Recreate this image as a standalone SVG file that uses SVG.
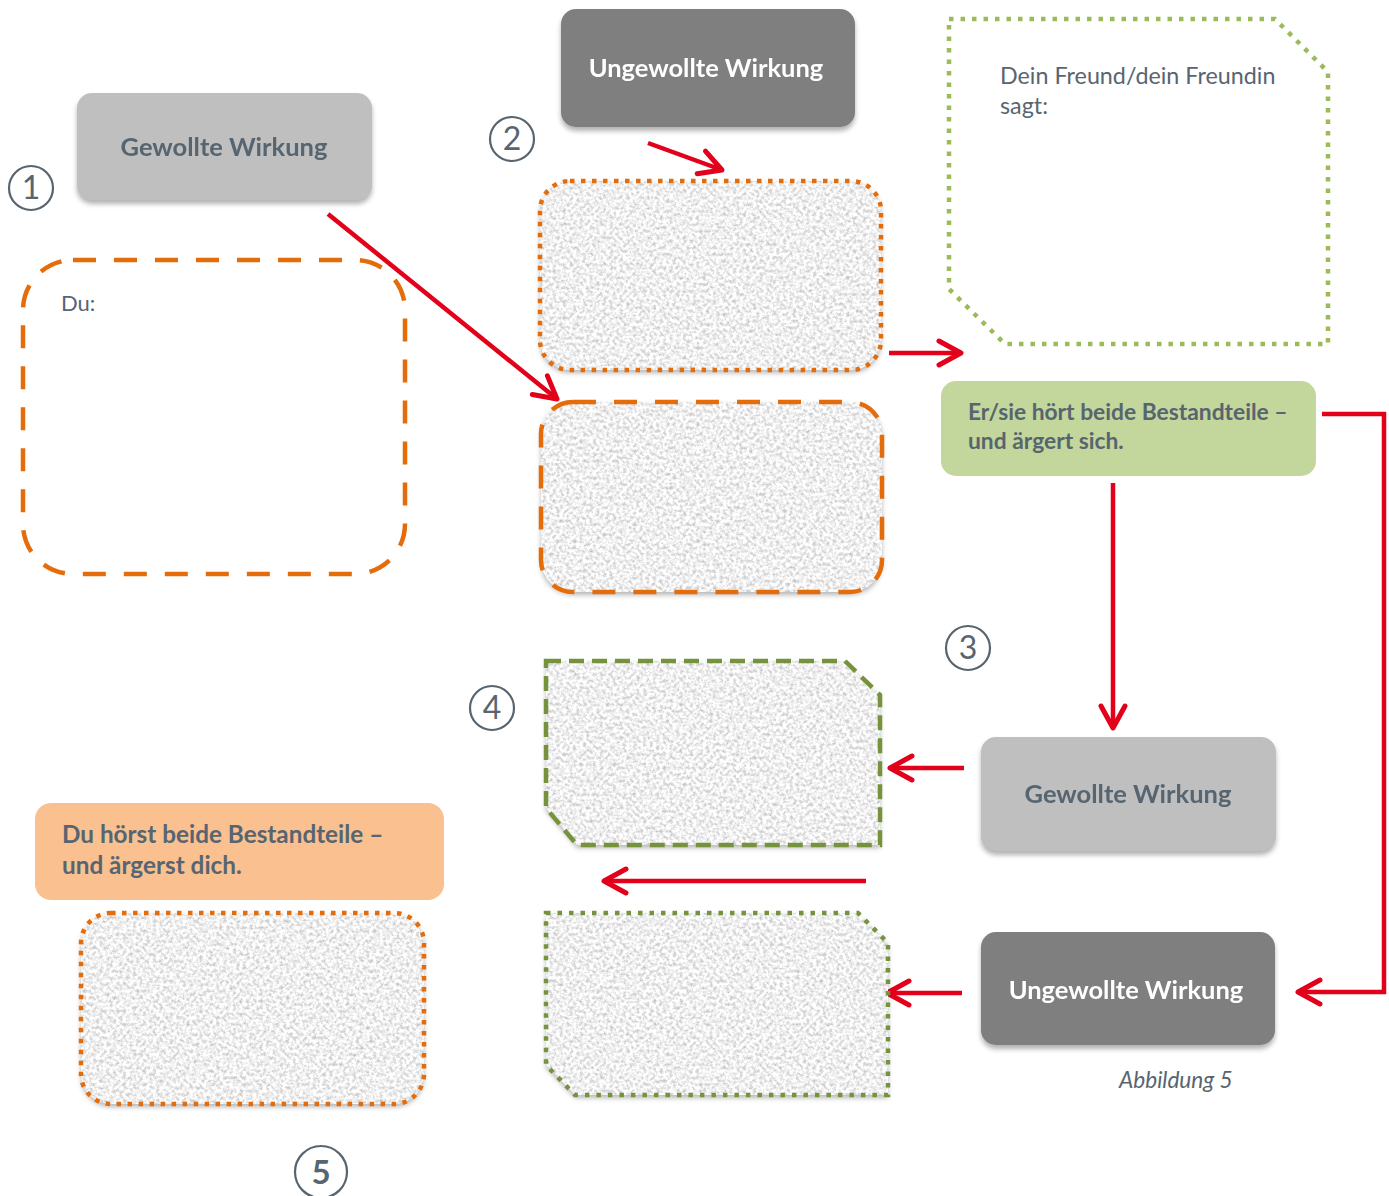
<svg xmlns="http://www.w3.org/2000/svg" width="1389" height="1196" viewBox="0 0 1389 1196">
<defs>
<style>
.txt{font-family:Lato,"Open Sans","Liberation Sans",sans-serif;fill:#576570}
.lbl{font-size:25.5px;font-weight:bold;text-anchor:middle}
.light{fill:#bfbfbf}
.dark{fill:#7f7f7f}
.white{fill:#ffffff}
.num{font-family:Lato,"Open Sans","Liberation Sans",sans-serif;font-size:32px;fill:#576570;text-anchor:middle}
.circ{fill:none;stroke:#576570;stroke-width:2.2}
.conn{fill:none;stroke:#e2001a;stroke-width:4.5}
.odot{fill:none;stroke:#e46c0a;stroke-width:4.5;stroke-dasharray:4.5 6.5}
.odash{fill:none;stroke:#e46c0a;stroke-width:4.5;stroke-dasharray:23 18}
.gdot{fill:none;stroke:#9bbb59;stroke-width:4.5;stroke-dasharray:4.5 7}
.gdash{fill:none;stroke:#76923c;stroke-width:4.5;stroke-dasharray:15 8}
.gdot2{fill:none;stroke:#76923c;stroke-width:4.5;stroke-dasharray:4.5 7}
.texfill{fill:#f2f2f2;filter:url(#tex)}
.sh{filter:url(#shadow)}
</style>
<filter id="shadow" x="-5%" y="-10%" width="110%" height="130%" color-interpolation-filters="sRGB">
<feGaussianBlur in="SourceAlpha" stdDeviation="2.5"/>
<feOffset dy="4" result="b"/>
<feFlood flood-color="#000" flood-opacity="0.3"/>
<feComposite in2="b" operator="in" result="s"/>
<feMerge><feMergeNode in="s"/><feMergeNode in="SourceGraphic"/></feMerge>
</filter>
<filter id="tex" x="-5%" y="-5%" width="110%" height="115%" color-interpolation-filters="sRGB">
<feTurbulence type="fractalNoise" baseFrequency="0.3" numOctaves="3" seed="7" result="n"/>
<feColorMatrix in="n" type="matrix" values="0.5 0 0 0 0.69  0.5 0 0 0 0.69  0.5 0 0 0 0.69  0 0 0 0 1" result="g"/>
<feComposite in="g" in2="SourceAlpha" operator="in" result="t"/>
<feGaussianBlur in="SourceAlpha" stdDeviation="2.5"/>
<feOffset dy="3" result="b"/>
<feFlood flood-color="#000" flood-opacity="0.28"/>
<feComposite in2="b" operator="in" result="s"/>
<feMerge><feMergeNode in="s"/><feMergeNode in="t"/></feMerge>
</filter>
<marker id="arr" markerUnits="userSpaceOnUse" markerWidth="34" markerHeight="34" viewBox="0 0 34 34" refX="30" refY="17" orient="auto">
<path d="M8,5 L30,17 L8,29" fill="none" stroke="#e2001a" stroke-width="5" stroke-linecap="round" stroke-linejoin="round"/>
</marker>
</defs>

<g id="connectors">
<path class="conn" d="M648,143 L722,170" marker-end="url(#arr)"/>
<path class="conn" d="M328,214 L557,399" marker-end="url(#arr)"/>
<path class="conn" d="M889,353 L961,353" marker-end="url(#arr)"/>
<path class="conn" d="M1113,483 L1113,728" marker-end="url(#arr)"/>
<path class="conn" d="M1322,414 L1384,414 L1384,992 L1298,992" marker-end="url(#arr)"/>
<path class="conn" d="M964,768 L890,768" marker-end="url(#arr)"/>
<path class="conn" d="M866,881 L604,881" marker-end="url(#arr)"/>
<path class="conn" d="M962,993 L887,993" marker-end="url(#arr)"/>
</g>

<g id="num1"><circle class="circ" cx="31" cy="188" r="22"/><text class="num" x="31" y="199">1</text></g>
<g id="num2"><circle class="circ" cx="512" cy="139" r="22"/><text class="num" x="512" y="150">2</text></g>
<g id="num3"><circle class="circ" cx="968" cy="648" r="22"/><text class="num" x="968" y="659">3</text></g>
<g id="num4"><circle class="circ" cx="492" cy="708" r="22"/><text class="num" x="492" y="719">4</text></g>
<g id="num5"><circle class="circ" cx="321" cy="1172" r="26"/><text class="num" x="321" y="1184" style="font-weight:bold;font-size:33px">5</text></g>

<g id="gewollte1" class="sh">
<rect class="light" x="77" y="93" width="295" height="107" rx="15"/>
<text class="txt lbl" x="224" y="156">Gewollte Wirkung</text>
</g>

<g id="ungewollte1" class="sh">
<rect class="dark" x="561" y="9" width="294" height="118" rx="15"/>
<text class="txt lbl white" x="706" y="77">Ungewollte Wirkung</text>
</g>

<g id="du">
<rect class="odash" x="23" y="260" width="382" height="314" rx="50"/>
<text class="txt" x="61" y="311" style="font-size:22px">Du:</text>
</g>

<g id="tex-orange-dotted-top">
<rect class="texfill" x="540" y="181" width="341" height="189" rx="30"/>
<rect class="odot" x="540" y="181" width="341" height="189" rx="30"/>
</g>

<g id="tex-orange-dashed">
<rect class="texfill" x="541" y="402" width="341" height="190" rx="32"/>
<rect class="odash" x="541" y="402" width="341" height="190" rx="32"/>
</g>

<g id="freund">
<path class="gdot" d="M949,19 L1275,19 L1328,72 L1328,344 L1005,344 L949,289 Z"/>
<text class="txt" x="1000" y="84" style="font-size:23.3px">Dein Freund/dein Freundin</text>
<text class="txt" x="1000" y="114" style="font-size:23.3px">sagt:</text>
</g>

<g id="ersie">
<rect x="941" y="381" width="375" height="95" rx="15" fill="#c3d69b"/>
<text class="txt" x="968" y="420" style="font-size:22.8px;font-weight:bold">Er/sie hört beide Bestandteile –</text>
<text class="txt" x="968" y="449" style="font-size:22.8px;font-weight:bold">und ärgert sich.</text>
</g>

<g id="gewollte2" class="sh">
<rect class="light" x="981" y="737" width="295" height="114" rx="15"/>
<text class="txt lbl" x="1128" y="803">Gewollte Wirkung</text>
</g>

<g id="ungewollte2" class="sh">
<rect class="dark" x="981" y="932" width="294" height="113" rx="15"/>
<text class="txt lbl white" x="1126" y="999">Ungewollte Wirkung</text>
</g>

<g id="tex-green-dashed">
<path class="texfill" d="M546,661 L845,661 L880,695 L880,845 L577,845 L546,808 Z"/>
<path class="gdash" d="M546,661 L845,661 L880,695 L880,845 L577,845 L546,808 Z"/>
</g>

<g id="tex-green-dotted">
<path class="texfill" d="M546,913 L858,913 L888,943 L888,1095 L575,1095 L546,1065 Z"/>
<path class="gdot2" d="M546,913 L858,913 L888,943 L888,1095 L575,1095 L546,1065 Z"/>
</g>

<g id="duhoerst">
<rect x="35" y="803" width="409" height="97" rx="16" fill="#fac090"/>
<text class="txt" x="62" y="843" style="font-size:24.3px;font-weight:bold">Du hörst beide Bestandteile –</text>
<text class="txt" x="62" y="874" style="font-size:24.3px;font-weight:bold">und ärgerst dich.</text>
</g>

<g id="tex-orange-dotted-bottom">
<rect class="texfill" x="81" y="913" width="343" height="191" rx="30"/>
<rect class="odot" x="81" y="913" width="343" height="191" rx="30"/>
</g>

<g id="caption">
<text class="txt" x="1119" y="1088" style="font-size:22.6px;font-style:italic">Abbildung 5</text>
</g>
</svg>
